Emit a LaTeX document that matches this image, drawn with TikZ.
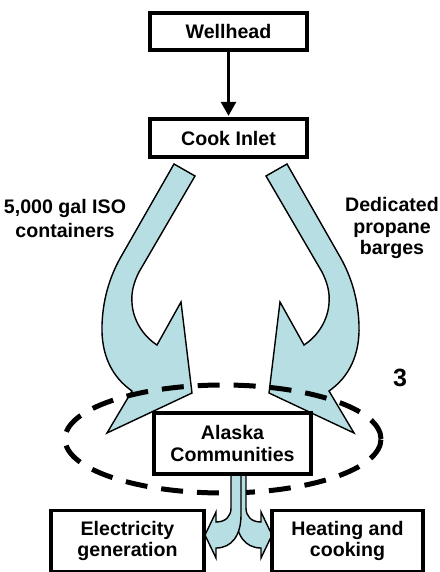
\documentclass[tikz,border=0pt]{standalone}
\usepackage{fontspec}
\setmainfont{Liberation Sans}
\usetikzlibrary{arrows.meta}

\definecolor{flowblue}{RGB}{183,222,226}

% one bent supply arrow, the other one is its mirror image
\newcommand{\supplyflow}{(174,164) -- (195,176) -- (139,272)
	.. controls (134,282) and (131,292) .. (132,303)
	.. controls (133,320) and (143,336) .. (157,345)
	-- (181,302) -- (192,393) -- (107,433) -- (132,391)
	.. controls (112,377) and (101,355) .. (102,325)
	.. controls (103,295) and (112,272) .. (122,255) -- cycle}
\newcommand{\useflow}{(231,470) -- (231,508)
	.. controls (231,516) and (226,522) .. (216,522)
	-- (216,512) -- (205,535) -- (216,558) -- (216,548)
	.. controls (232,548) and (241,535) .. (241,515) -- (241,470) -- cycle}

\tikzset{
	stage/.style={draw, line width=3.3pt, fill=white, align=center, inner sep=0pt,
		font=\fontsize{19.6}{21.5}\selectfont\bfseries},
	tag/.style={align=center, font=\fontsize{19.6}{21.5}\selectfont\bfseries},
	bluearrow/.style={draw, fill=flowblue, line width=1.4pt, line join=miter},
	ring/.style={line width=5pt, dash pattern=on 22pt off 14pt}
}

\begin{document}
\begin{tikzpicture}[x=1pt, y=-1pt]
	\useasboundingbox (0,0) rectangle (439,572);

	% big block arrows out of Cook Inlet
	\path[bluearrow] \supplyflow;
	\begin{scope}[shift={(461,0)}, xscale=-1]
		\path[bluearrow] \supplyflow;
	\end{scope}

	\draw[ring] (223,439) ellipse [x radius=158pt, y radius=54pt];

	% split arrow below the communities
	\begin{scope}[shift={(477,0)}, xscale=-1]
		\path[bluearrow] \useflow;
	\end{scope}
	\path[bluearrow] \useflow;

	\node[stage, minimum width=157pt, minimum height=37pt] (wellhead) at (228.5,31.5) {Wellhead};
	\node[stage, minimum width=157pt, minimum height=38pt] (inlet) at (228.5,138) {Cook Inlet};
	\node[stage, minimum width=157pt, minimum height=61pt] (communities) at (232.5,443.5) {Alaska\\Communities};
	\node[stage, minimum width=153pt, minimum height=61pt] (power) at (127.5,541) {Electricity\\generation};
	\node[stage, minimum width=151pt, minimum height=61pt] (heating) at (347.5,541) {Heating and\\cooking};

	\node[tag] (isolabel) at (65,218) {5,000 gal ISO\\[2.5pt]containers};
	\node[tag] (bargelabel) at (392,228) {Dedicated\\propane\\barges};
	\node[font=\fontsize{25}{25}\selectfont\bfseries] (ringno) at (400,378) {3};

	\path [-{Triangle[length=14pt,width=15pt]}, line width=2.6pt, shorten >=1.5pt] (wellhead) edge (inlet);
\end{tikzpicture}
\end{document}
